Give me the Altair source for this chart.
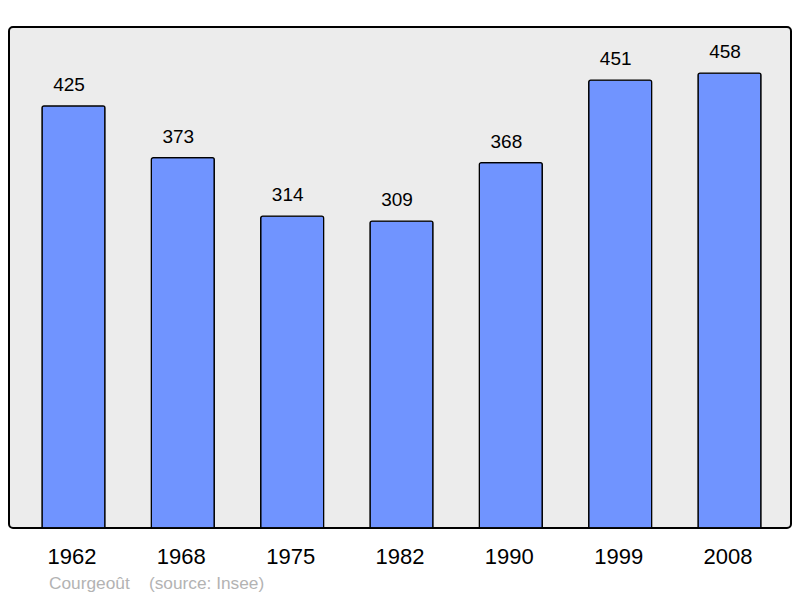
import altair as alt
import pandas as pd

years = ["1962", "1968", "1975", "1982", "1990", "1999", "2008"]
population = [425, 373, 314, 309, 368, 451, 458]
source_text = "Courgeoût\u00a0\u00a0\u00a0\u00a0(source: Insee)"

df = pd.DataFrame({"year": years, "pop": population})

FONT = "Liberation Sans"

x = alt.X(
    "year:O",
    sort=years,
    scale=alt.Scale(range=[33, 752], paddingInner=0.424, paddingOuter=0),
    axis=alt.Axis(
        title=None,
        labelAngle=0,
        labelFontSize=22,
        labelFont=FONT,
        labelColor="#000000",
        labelOffset=-1.5,
        domain=False,
        ticks=False,
        tickSize=0,
        labelPadding=18,
    ),
)
y = alt.Y("pop:Q", scale=alt.Scale(domain=[0, 504.5], nice=False, zero=True), axis=None)

bars = alt.Chart(df).mark_bar(
    color="#7094ff",
    stroke="#000000",
    strokeWidth=1.3,
    cornerRadiusTopLeft=2,
    cornerRadiusTopRight=2,
).encode(x=x, y=y)

labels = alt.Chart(df).mark_text(
    baseline="alphabetic",
    dy=-15,
    dx=-4.5,
    fontSize=19,
    font=FONT,
    color="#000000",
).encode(x=x, y=y, text="pop:Q")

chart = (
    alt.layer(bars, labels)
    .properties(
        width=782,
        height=501,
        autosize=alt.AutoSizeParams(type="none"),
        padding={"left": 1, "top": 19, "right": 1, "bottom": 68},
        background="#ffffff",
        title=alt.TitleParams(
            text=source_text,
            orient="bottom",
            anchor="start",
            fontSize=17.3,
            font=FONT,
            fontWeight="normal",
            color="#b3b3b3",
            dx=40,
            offset=22,
            baseline="alphabetic",
        ),
    )
    .configure_view(
        fill="#ececec",
        stroke="#000000",
        strokeWidth=2,
        cornerRadius=4,
    )
)

chart.save("out.html", embed_options={"renderer": "svg", "actions": False})
